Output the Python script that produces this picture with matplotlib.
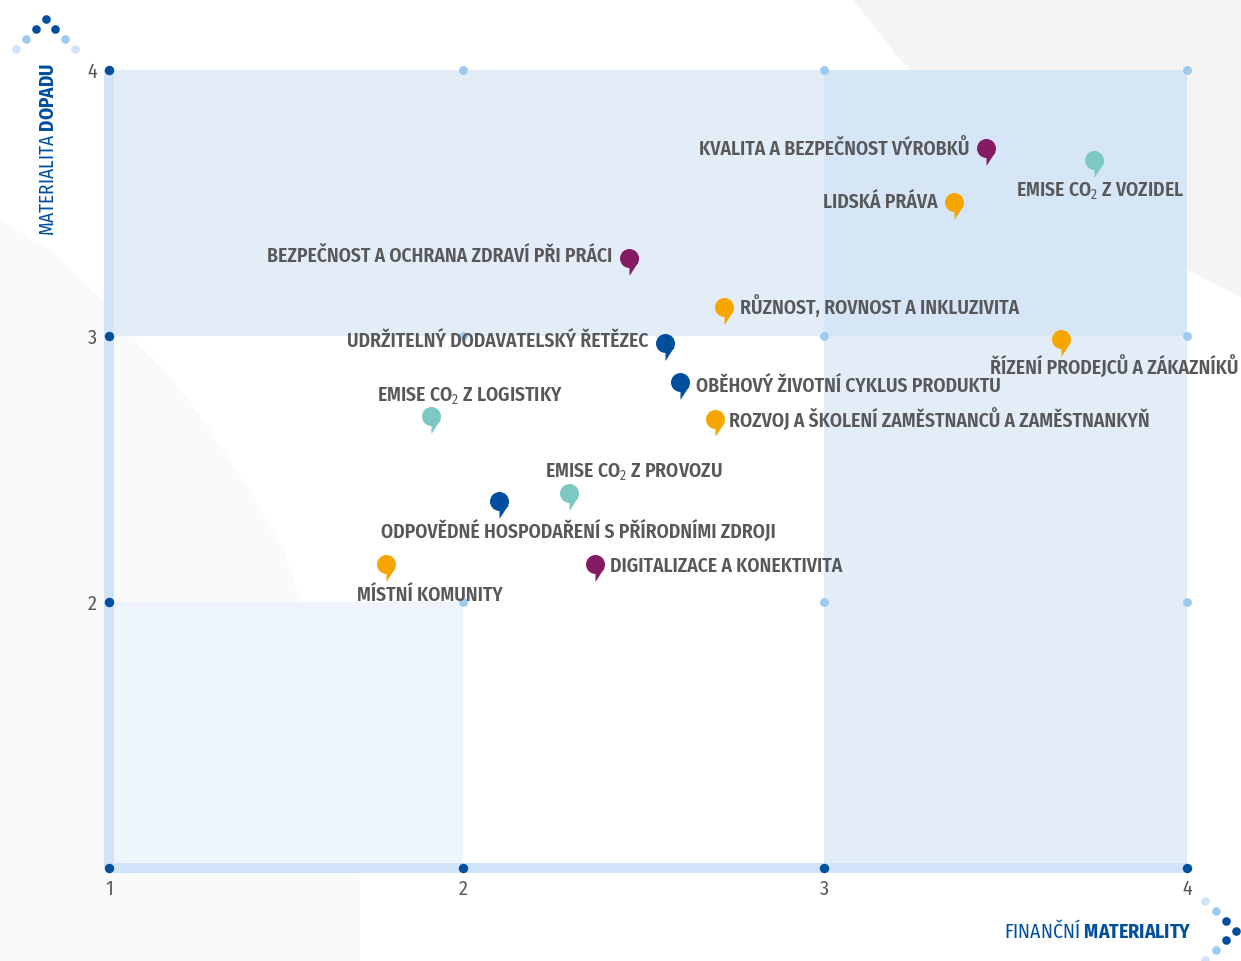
import numpy as np
import matplotlib
matplotlib.use('Agg')
import matplotlib.pyplot as plt
from matplotlib.path import Path
from matplotlib.patches import Rectangle, Polygon
from matplotlib.transforms import Affine2D

FONT = 'Fira Sans Condensed'
plt.rcParams['font.family'] = [FONT, 'DejaVu Sans']
plt.rcParams['mathtext.fontset'] = 'custom'
plt.rcParams['mathtext.rm'] = FONT
plt.rcParams['mathtext.bf'] = FONT + ':bold'
plt.rcParams['mathtext.default'] = 'regular'

# ---- data ----
labels = ['KVALITA A BEZPEČNOST VÝROBKŮ', r'EMISE CO$_{\mathrm{2}}$ Z VOZIDEL', 'LIDSKÁ PRÁVA',
          'BEZPEČNOST A OCHRANA ZDRAVÍ PŘI PRÁCI', 'RŮZNOST, ROVNOST A INKLUZIVITA',
          'ŘÍZENÍ PRODEJCŮ A ZÁKAZNÍKŮ', 'UDRŽITELNÝ DODAVATELSKÝ ŘETĚZEC',
          'OBĚHOVÝ ŽIVOTNÍ CYKLUS PRODUKTU', 'ROZVOJ A ŠKOLENÍ ZAMĚSTNANCŮ A ZAMĚSTNANKYŇ',
          r'EMISE CO$_{\mathrm{2}}$ Z LOGISTIKY', r'EMISE CO$_{\mathrm{2}}$ Z PROVOZU',
          'ODPOVĚDNÉ HOSPODAŘENÍ S PŘÍRODNÍMI ZDROJI', 'DIGITALIZACE A KONEKTIVITA', 'MÍSTNÍ KOMUNITY']
financial = [3.446, 3.744, 3.358, 2.46, 2.723, 3.653, 2.56, 2.60, 2.698, 1.91, 2.294, 2.10, 2.366, 1.782]
impact = [3.708, 3.662, 3.505, 3.295, 3.11, 2.99, 2.975, 2.828, 2.688, 2.699, 2.409, 2.379, 2.141, 2.141]
groups = ['purple', 'teal', 'orange', 'purple', 'orange', 'orange', 'blue', 'blue', 'orange',
          'teal', 'teal', 'blue', 'purple', 'orange']
xticks = [1, 2, 3, 4]
yticks = [2, 3, 4]

# ---- style ----
palette = {'purple': '#851c63', 'teal': '#7cc8c2', 'orange': '#f7a600', 'blue': '#004f9f'}
DARK, MID, PALE = '#004f9f', '#9dcbf0', '#d1e3f8'
TXT = '#58585a'
# label placement in pixels relative to the pin: (dx, dy, ha)
label_pos = [(-17, 1, 'right'), (6, -29, 'center'), (-16, 1, 'right'), (-17, 3, 'right'),
             (16, 2, 'left'), (53, -27, 'center'), (-17, 3, 'right'), (16, -3, 'left'),
             (14, 1, 'left'), (39, 22, 'center'), (65, 24, 'center'), (79, -28, 'center'),
             (15, 0, 'left'), (44, -29, 'center')]

W, H = 1241, 961
fig = plt.figure(figsize=(W / 100, H / 100), dpi=100, facecolor='white')
px = Affine2D().scale(1, -1).translate(0, H)

# paper-like background shapes
shapes = [('#f4f4f4', [(853, 0), (903, 63), (920, 77), (1113, 237), (1187, 270), (1241, 297), (1241, 0)]),
          ('#fafafa', [(0, 220), (50, 250), (100, 297), (140, 345), (160, 365), (200, 414), (250, 491), (283, 550),
                       (300, 598), (340, 700), (360, 800), (360, 961), (0, 961)])]
for col, pts in shapes:
    fig.add_artist(Polygon(pts, closed=True, transform=px, fc=col, ec='none', zorder=-5))

ax = fig.add_axes([109 / W, (H - 868) / H, (1187 - 109) / W, (868 - 70) / H])
ax.patch.set_alpha(0)
xs_px = np.array([0.0, 354.0, 715.0, 1078.0])
fwd = lambda v: np.interp(v, [1, 2, 3, 4], xs_px)
inv = lambda p: np.interp(p, xs_px, [1, 2, 3, 4])
ax.set_xscale('function', functions=(fwd, inv))
ax.set_xlim(1, 4)
ax.set_ylim(1, 4)
for s in ax.spines.values():
    s.set_visible(False)
ax.set_xticks(xticks)
ax.set_yticks(yticks)
ax.minorticks_off()
ax.tick_params(length=0, labelsize=14.5, labelcolor=TXT)
ax.tick_params(axis='x', pad=8)
ax.tick_params(axis='y', pad=9)

# quadrants
for (x0, y0, x1, y1, c) in [(1, 3, 3, 4, '#e3edf8'), (3, 3, 4, 4, '#d6e6f7'),
                            (3, 1, 4, 3, '#e3edf8'), (1, 1, 2, 2, '#edf4fc')]:
    ax.add_patch(Rectangle((x0, y0), x1 - x0, y1 - y0, fc=c, ec='none', zorder=1))
ax.plot([1, 1], [1, 4], color=PALE, lw=7.2, solid_capstyle='butt', zorder=2, clip_on=False)
ax.plot([1, 4], [1, 1], color=PALE, lw=7.2, solid_capstyle='butt', zorder=2, clip_on=False)

# grid dots
for gx in xticks:
    for gy in xticks:
        edge = gx == 1 or gy == 1
        ax.plot([gx], [gy], 'o', ms=6.8 if edge else 6.4, mec='none',
                color=DARK if edge else MID, zorder=3, clip_on=False)

# pin marker
circ = Path.unit_circle()
head = Path(circ.vertices * 9.5, circ.codes)
tail = Path([(0, -17.5), (9, -3.5), (0, 0), (0, -17.5)],
            [Path.MOVETO, Path.LINETO, Path.LINETO, Path.CLOSEPOLY])
pin = Path.make_compound_path(head, tail)
pin_ms = 2 * 17.5 * 0.72

for x, y, g, lab, (dx, dy, ha) in zip(financial, impact, groups, labels, label_pos):
    ax.plot([x], [y], marker=pin, ms=pin_ms, color=palette[g], mec='none', ls='none', zorder=4, clip_on=False)
    ax.annotate(lab, (x, y), xytext=(dx, dy), textcoords='offset pixels', ha=ha, va='center_baseline',
                fontsize=14.1, fontweight='semibold', color=TXT, zorder=5, annotation_clip=False)

# axis titles
fig.text(48 / W, 1 - 149.5 / H, r'MATERIALITA $\mathbf{DOPADU}$', rotation=90, ha='center', va='center',
         fontsize=13.9, color=DARK)
fig.text(1192 / W, 1 - 931 / H, r'FINANČNÍ $\mathbf{MATERIALITY}$', ha='right', va='center',
         fontsize=14.2, color=DARK)

# chevrons
chev = [(46, 19, DARK), (36, 29, DARK), (55, 29, DARK), (26, 39, MID), (65, 39, MID), (16, 49, PALE), (75, 49, PALE),
        (1236, 931, DARK), (1226, 921, DARK), (1226, 940, DARK), (1216, 911, MID), (1216, 950, MID),
        (1205, 901, PALE), (1205, 960, PALE)]
for cx, cy, c in chev:
    fig.add_artist(plt.Line2D([cx], [cy], marker='o', ms=6.2, mec='none', color=c, transform=px))

fig.savefig('out.png', dpi=100)
